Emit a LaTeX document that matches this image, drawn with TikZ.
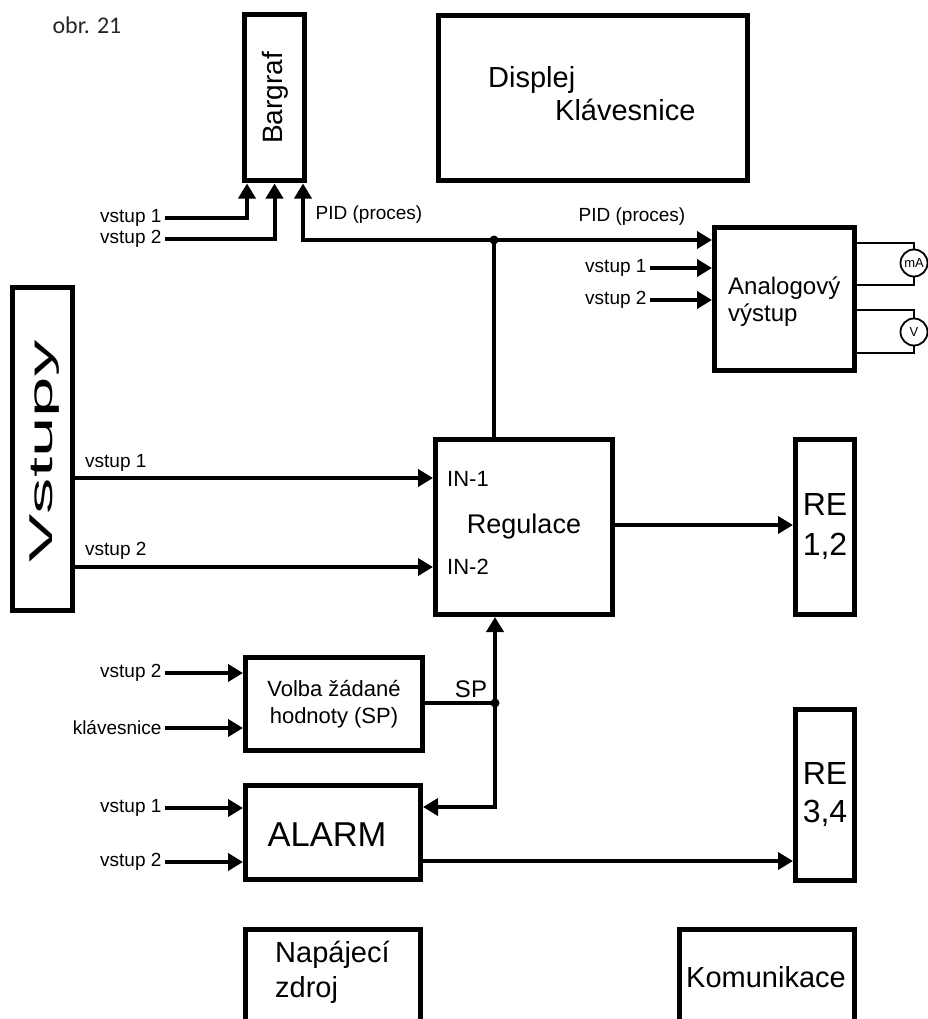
\documentclass[tikz,border=0pt]{standalone}
\usepackage{fontspec}
\usepackage{graphicx}
\setmainfont{Liberation Sans}
\newfontfamily\calfont{Carlito}
\usetikzlibrary{arrows.meta}
\begin{document}
\begin{tikzpicture}[x=1pt,y=-1pt,
  box/.style 2 args={draw=black, line width=5pt, inner sep=0pt, minimum width=#1, minimum height=#2},
  conn/.style={draw=black, line width=4pt},
  arr/.style={-{Triangle[length=15pt,width=17pt]}},
  thinline/.style={draw=black, line width=1.8pt},
  meter/.style={draw=black, line width=1.8pt, circle, minimum size=27pt, inner sep=0pt, fill=white, font=\fontsize{13}{14}\selectfont},
  lbl/.style={font=\fontsize{19}{22}\selectfont},
  txt/.style={inner sep=0pt}
]
\useasboundingbox (0,0) rectangle (928,1019);
\clip (0,0) rectangle (928,1019);

% title
\node[txt, text=black!85, font=\calfont\fontsize{24}{26}\selectfont] (title) at (87,25) {obr. 21};

% boxes
\node[box={60}{166}] (bar) at (274.5,98) {};
\node[txt, rotate=90, font=\fontsize{28}{30}\selectfont] (bartext) at (275,98) {Bargraf};

\node[box={309}{165}] (disp) at (593,98) {};
\node[txt, anchor=west, font=\fontsize{29}{32}\selectfont] (disptext) at (488,80) {Displej};
\node[txt, anchor=west, font=\fontsize{29}{32}\selectfont] (klavtext) at (555,110) {Klávesnice};

\node[box={140}{143}] (ana) at (784.5,299) {};
\node[txt, anchor=west, align=left, font=\fontsize{24}{27}\selectfont] (anatext) at (728,301.5) {Analogový\\výstup};

\node[box={60}{323}] (vst) at (42.5,449) {};
\node[txt, rotate=90, anchor=base, font=\fontsize{33}{35}\selectfont] (vsttext) at (52,451.5) {\scalebox{2.2}[1]{Vstupy}};

\node[box={177}{175}, font=\fontsize{27}{30}\selectfont] (reg) at (524,527) {Regulace};
\node[txt, anchor=west, font=\fontsize{22}{24}\selectfont] (in1) at (447,479) {IN-1};
\node[txt, anchor=west, font=\fontsize{22}{24}\selectfont] (in2) at (447,567) {IN-2};

\node[box={59}{175}, align=center, font=\fontsize{32}{40}\selectfont] (re12) at (825,527) {RE\\1,2};

\node[box={177}{93}, align=center, font=\fontsize{22}{27}\selectfont] (volba) at (334,704) {Volba žádané\\hodnoty (SP)};

\node[box={175}{94}] (alarm) at (333,832.5) {};
\node[txt, font=\fontsize{34.5}{36}\selectfont] (alarmtext) at (327,835) {ALARM};

\node[box={59}{171}, align=center, font=\fontsize{32}{38}\selectfont] (re34) at (825,795) {RE\\3,4};

\node[box={175}{117}] (nap) at (333,988) {};
\node[txt, anchor=west, align=left, font=\fontsize{29}{35}\selectfont] (naptext) at (275,972.5) {Napájecí\\zdroj};

\node[box={175}{117}] (kom) at (767,988) {};
\node[txt, font=\fontsize{29}{32}\selectfont] (komtext) at (766,977) {Komunikace};

% Bargraf inputs
\coordinate (b1) at (165,218);
\coordinate (b2) at (165,239);
\coordinate (j1) at (494,240);
\draw[conn,arr] (b1) -| ([xshift=-27.5pt]bar.south);
\draw[conn,arr] (b2) -| (bar.south);
\draw[conn,arr] (j1) -| ([xshift=28.5pt]bar.south);
\node[lbl, anchor=east] (lb1) at (b1) {vstup 1};
\node[lbl, anchor=east] (lb2) at (b2) {vstup 2};
\node[lbl] (pid1) at (369,215) {PID (proces)};

% PID to analog
\draw[conn,arr] (j1) -- (j1 -| ana.west);
\draw[conn] (j1 |- reg.north) -- (j1);
\fill (j1) circle (4.5pt);
\node[lbl] (pid2) at (632,217) {PID (proces)};

\coordinate (a1) at (650,268);
\coordinate (a2) at (650,300);
\draw[conn,arr] (a1) -- (a1 -| ana.west);
\draw[conn,arr] (a2) -- (a2 -| ana.west);
\node[lbl, anchor=east] (la1) at (a1) {vstup 1};
\node[lbl, anchor=east] (la2) at (a2) {vstup 2};

% analog outputs
\node[meter] (mA) at (914,263) {mA};
\node[meter] (mV) at (914,332) {V};
\draw[thinline] (ana.east |- 0,243) -| (mA.north);
\draw[thinline] (mA.south) |- (ana.east |- 0,285);
\draw[thinline] (ana.east |- 0,310) -| (mV.north);
\draw[thinline] (mV.south) |- (ana.east |- 0,353);

% Vstupy to Regulace
\draw[conn,arr] (vst.east |- 0,478) -- (reg.west |- 0,478);
\draw[conn,arr] (vst.east |- 0,567) -- (reg.west |- 0,567);
\node[lbl, txt, anchor=west] (lv1) at (85,463) {vstup 1};
\node[lbl, txt, anchor=west] (lv2) at (85,551) {vstup 2};

% Regulace to RE 1,2
\draw[conn,arr] (reg.east |- 0,525) -- (re12.west |- 0,525);

% Volba inputs
\coordinate (v1) at (165,673);
\coordinate (v2) at (165,728);
\draw[conn,arr] (v1) -- (v1 -| volba.west);
\draw[conn,arr] (v2) -- (v2 -| volba.west);
\node[lbl, anchor=east] (lvv1) at (v1) {vstup 2};
\node[lbl, anchor=east] (lvv2) at (v2) {klávesnice};

% SP
\coordinate (j2) at (495,703);
\draw[conn] (volba.east |- j2) -- (j2);
\fill (j2) circle (4.5pt);
\node[txt, font=\fontsize{24}{26}\selectfont] (sp) at (471,689) {SP};
\draw[conn,arr] (j2) -- (j2 |- reg.south);
\draw[conn,arr] (j2) |- (alarm.east |- 0,807);

% Alarm inputs
\coordinate (al1) at (165,808);
\coordinate (al2) at (165,862);
\draw[conn,arr] (al1) -- (al1 -| alarm.west);
\draw[conn,arr] (al2) -- (al2 -| alarm.west);
\node[lbl, anchor=east] (lal1) at (al1) {vstup 1};
\node[lbl, anchor=east] (lal2) at (al2) {vstup 2};

% Alarm to RE 3,4
\draw[conn,arr] (alarm.east |- 0,861) -- (re34.west |- 0,861);
\end{tikzpicture}
\end{document}
